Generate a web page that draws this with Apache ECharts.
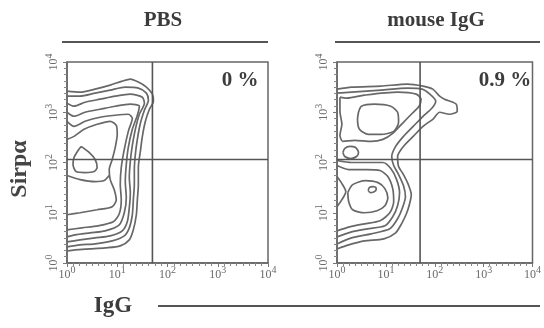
<!DOCTYPE html>
<html>
<head>
<meta charset="utf-8">
<script src="https://cdn.jsdelivr.net/npm/echarts@6/dist/echarts.min.js"></script>
<style>
html,body{margin:0;padding:0;background:#fff;}
#chart{width:544px;height:328px;}
</style>
</head>
<body>
<div id="chart"></div>
<script>
//刻度 (10的指数)
var decades=['0','1','2','3','4'];
//象限门
var gateX=[1.7,1.7];
var gateY=[2.06,2.06];
var percentPBS='0 %';
var percentIgG='0.9 %';

//PBS 等高线 [log10 IgG, log10 Sirpα]
var pbs1=[[0,3.42],[0.26,3.40],[0.56,3.46],[0.86,3.54],[1.10,3.62],[1.26,3.66],[1.42,3.60],[1.58,3.50],[1.70,3.36],[1.72,3.22],[1.64,3.06],[1.56,2.82],[1.50,2.52],[1.46,2.22],[1.42,1.90],[1.42,1.56],[1.40,1.26],[1.38,0.96],[1.32,0.66],[1.24,0.46],[1.06,0.34],[0.76,0.30],[0.46,0.28],[0.16,0.26],[0,0.24]];
var pbs2=[[0,3.32],[0.26,3.32],[0.56,3.38],[0.86,3.44],[1.16,3.50],[1.42,3.48],[1.58,3.38],[1.62,3.24],[1.54,3.04],[1.46,2.78],[1.40,2.46],[1.36,2.16],[1.34,1.86],[1.34,1.56],[1.32,1.26],[1.30,0.96],[1.24,0.70],[1.14,0.54],[0.90,0.44],[0.56,0.38],[0.26,0.36],[0,0.32]];
var pbs3=[[0,3.18],[0.14,3.12],[0.36,3.20],[0.66,3.26],[0.96,3.32],[1.26,3.36],[1.50,3.30],[1.54,3.18],[1.44,2.96],[1.36,2.66],[1.30,2.34],[1.26,2.02],[1.24,1.70],[1.26,1.40],[1.24,1.10],[1.20,0.82],[1.10,0.64],[0.86,0.54],[0.56,0.50],[0.26,0.46],[0,0.42]];
var pbs4=[[0,3.00],[0.14,2.92],[0.36,3.00],[0.66,3.06],[0.96,3.12],[1.26,3.16],[1.44,3.12],[1.40,2.94],[1.30,2.66],[1.22,2.30],[1.18,1.96],[1.16,1.62],[1.18,1.30],[1.14,1.00],[1.04,0.76],[0.76,0.64],[0.46,0.60],[0.16,0.56],[0,0.52]];
var pbs5=[[0,2.82],[0.14,2.72],[0.36,2.82],[0.66,2.90],[0.96,2.94],[1.22,2.96],[1.30,2.88],[1.22,2.62],[1.14,2.26],[1.08,1.90],[1.06,1.56],[1.08,1.26],[1.04,0.98],[0.92,0.82],[0.62,0.74],[0.30,0.70],[0,0.66]];
var pbs6=[[0,2.46],[0.14,2.52],[0.34,2.66],[0.60,2.76],[0.86,2.82],[0.98,2.74],[1.00,2.56],[0.96,2.30],[0.90,2.06],[0.84,1.86],[0.86,1.66],[0.94,1.46],[0.98,1.26],[0.90,1.12],[0.60,1.06],[0.26,1.00],[0,0.96]];
var pbs7=[[0,1.74],[0.26,1.66],[0.56,1.62],[0.74,1.64],[0.84,1.74]];
var pbs8=[[0.28,2.32],[0.44,2.20],[0.56,2.06],[0.60,1.90],[0.54,1.82],[0.36,1.80],[0.18,1.82],[0.12,1.96],[0.14,2.10],[0.22,2.24],[0.28,2.32]];

//mouse IgG 等高线
var igg1=[[0,3.46],[0.30,3.50],[0.90,3.52],[1.44,3.56],[1.76,3.52],[1.96,3.46],[2.10,3.32],[2.20,3.26],[2.44,3.16],[2.46,3.02],[2.30,2.96],[2.10,3.00],[1.96,2.86],[1.76,2.72],[1.56,2.52],[1.36,2.32],[1.24,2.12],[1.26,1.92],[1.36,1.76],[1.46,1.56],[1.52,1.36],[1.48,1.16],[1.42,0.98],[1.32,0.78],[1.20,0.60],[0.96,0.48],[0.56,0.44],[0.24,0.36],[0,0.28]];
var igg2=[[0,3.38],[0.30,3.40],[0.90,3.44],[1.44,3.48],[1.74,3.46],[1.90,3.36],[2.02,3.22],[1.94,3.08],[1.76,2.92],[1.56,2.72],[1.36,2.52],[1.20,2.32],[1.12,2.12],[1.16,1.94],[1.26,1.76],[1.36,1.54],[1.40,1.32],[1.34,1.10],[1.24,0.88],[1.08,0.68],[0.70,0.58],[0.30,0.50],[0,0.38]];
var igg3=[[0.06,3.30],[0.20,3.28],[0.56,3.34],[1.24,3.40],[1.62,3.36],[1.72,3.26],[1.68,3.12],[1.54,2.98],[1.34,2.78],[1.14,2.58],[0.94,2.46],[0.70,2.42],[0.36,2.44],[0.12,2.42],[0.06,2.54],[0.10,2.76],[0.06,3.02],[0.06,3.30]];
var igg4=[[0.44,3.00],[0.50,3.12],[0.76,3.16],[1.10,3.12],[1.24,3.00],[1.26,2.80],[1.16,2.62],[0.90,2.56],[0.64,2.56],[0.46,2.66],[0.42,2.86],[0.44,3.00]];
var igg5=[[0.12,2.20],[0.16,2.28],[0.26,2.32],[0.38,2.30],[0.44,2.20],[0.40,2.12],[0.28,2.08],[0.16,2.12],[0.12,2.20]];
var igg6=[[0,2.04],[0.30,2.00],[0.66,2.00],[0.94,2.00],[1.10,1.88],[1.22,1.66],[1.28,1.40],[1.24,1.14],[1.14,0.92],[0.98,0.74],[0.62,0.68],[0.30,0.62],[0,0.52]];
var igg7=[[0,1.94],[0.24,1.86],[0.60,1.86],[0.88,1.84],[1.04,1.72],[1.14,1.48],[1.16,1.22],[1.08,1.00],[0.88,0.84],[0.56,0.78],[0.26,0.72],[0,0.64]];
var igg8=[[0,1.72],[0.10,1.58],[0.18,1.42],[0.10,1.26],[0,1.12]];
var igg9=[[0.22,1.40],[0.32,1.56],[0.58,1.64],[0.84,1.60],[0.98,1.48],[1.04,1.30],[0.98,1.14],[0.82,1.04],[0.56,1.00],[0.32,1.06],[0.24,1.22],[0.22,1.40]];
var igg10=[[0.64,1.44],[0.66,1.50],[0.74,1.52],[0.80,1.50],[0.80,1.46],[0.76,1.42],[0.68,1.40],[0.64,1.44]];

var pbsLines=[pbs1,pbs2,pbs3,pbs4,pbs5,pbs6,pbs7,pbs8];
var iggLines=[igg1,igg2,igg3,igg4,igg5,igg6,igg7,igg8,igg9,igg10];

var serif='"Liberation Serif","DejaVu Serif",serif';
var lineColor='#686868';

function tickLabel(v){
	return '{b|10}{s|'+decades[Math.round(v)]+'}';
}
var labelRich={
	b:{fontSize:12,fontFamily:serif,color:'#6a6a6a',lineHeight:16,verticalAlign:'bottom'},
	s:{fontSize:10,fontFamily:serif,color:'#6a6a6a',lineHeight:16,verticalAlign:'top'}
};

function makeX(idx){
	return {
		gridIndex:idx,type:'value',min:0,max:4,interval:1,
		axisLine:{show:true,lineStyle:{color:'#666',width:1.5}},
		axisTick:{show:true,length:4,lineStyle:{color:'#777'}},
		minorTick:{show:true,splitNumber:8,length:3,lineStyle:{color:'#888'}},
		splitLine:{show:false},
		axisLabel:{margin:2,formatter:tickLabel,rich:labelRich}
	};
}
function makeY(idx){
	return {
		gridIndex:idx,type:'value',min:0,max:4,interval:1,
		axisLine:{show:true,lineStyle:{color:'#666',width:1.5}},
		axisTick:{show:true,length:4,lineStyle:{color:'#777'}},
		minorTick:{show:true,splitNumber:8,length:3,lineStyle:{color:'#888'}},
		splitLine:{show:false},
		axisLabel:{margin:7,rotate:90,formatter:tickLabel,rich:labelRich}
	};
}

//等高线系列
function contourSeries(lines,idx){
	var list=[];
	for(var i=0;i<lines.length;i++){
		list.push({
			type:'line',xAxisIndex:idx,yAxisIndex:idx,
			data:lines[i],symbol:'none',smooth:0.25,silent:true,
			lineStyle:{color:lineColor,width:1.7}
		});
	}
	//象限线
	list.push({type:'line',xAxisIndex:idx,yAxisIndex:idx,symbol:'none',silent:true,
		data:[[gateX[0],0],[gateX[1],4]],lineStyle:{color:'#555',width:1.6}});
	list.push({type:'line',xAxisIndex:idx,yAxisIndex:idx,symbol:'none',silent:true,
		data:[[0,gateY[0]],[4,gateY[1]]],lineStyle:{color:'#555',width:1.6}});
	return list;
}

var myChart=echarts.init(document.getElementById('chart'));
var option={
	backgroundColor:'#fff',
	animation:false,
	grid:[
		{left:67,top:62,width:201,height:201,show:true,borderColor:'#666',borderWidth:1.5},
		{left:337,top:62,width:202,height:201,show:true,borderColor:'#666',borderWidth:1.5}
	],
	xAxis:[makeX(0),makeX(1)],
	yAxis:[makeY(0),makeY(1)],
	series:contourSeries(pbsLines,0).concat(contourSeries(iggLines,1)),
	graphic:[
		{type:'text',x:163,y:21,style:{text:'PBS',align:'center',verticalAlign:'middle',fontFamily:serif,fontWeight:'bold',fontSize:21,fill:'#3c3c3c'}},
		{type:'line',shape:{x1:62,y1:42,x2:268,y2:42},style:{stroke:'#555',lineWidth:2}},
		{type:'text',x:436,y:21,style:{text:'mouse IgG',align:'center',verticalAlign:'middle',fontFamily:serif,fontWeight:'bold',fontSize:21,fill:'#3c3c3c'}},
		{type:'line',shape:{x1:335,y1:42,x2:540,y2:42},style:{stroke:'#555',lineWidth:2}},
		{type:'text',x:240,y:81,style:{text:percentPBS,align:'center',verticalAlign:'middle',fontFamily:serif,fontWeight:'bold',fontSize:21,fill:'#3c3c3c'}},
		{type:'text',x:505,y:81,style:{text:percentIgG,align:'center',verticalAlign:'middle',fontFamily:serif,fontWeight:'bold',fontSize:21,fill:'#3c3c3c'}},
		{type:'text',x:20,y:169,rotation:Math.PI/2,style:{text:'Sirpα',align:'center',verticalAlign:'middle',fontFamily:serif,fontWeight:'bold',fontSize:24,fill:'#444'}},
		{type:'text',x:113,y:306,style:{text:'IgG',align:'center',verticalAlign:'middle',fontFamily:serif,fontWeight:'bold',fontSize:23,fill:'#3c3c3c'}},
		{type:'line',shape:{x1:158,y1:306,x2:540,y2:306},style:{stroke:'#555',lineWidth:2}}
	]
};
myChart.setOption(option);
</script>
</body>
</html>
